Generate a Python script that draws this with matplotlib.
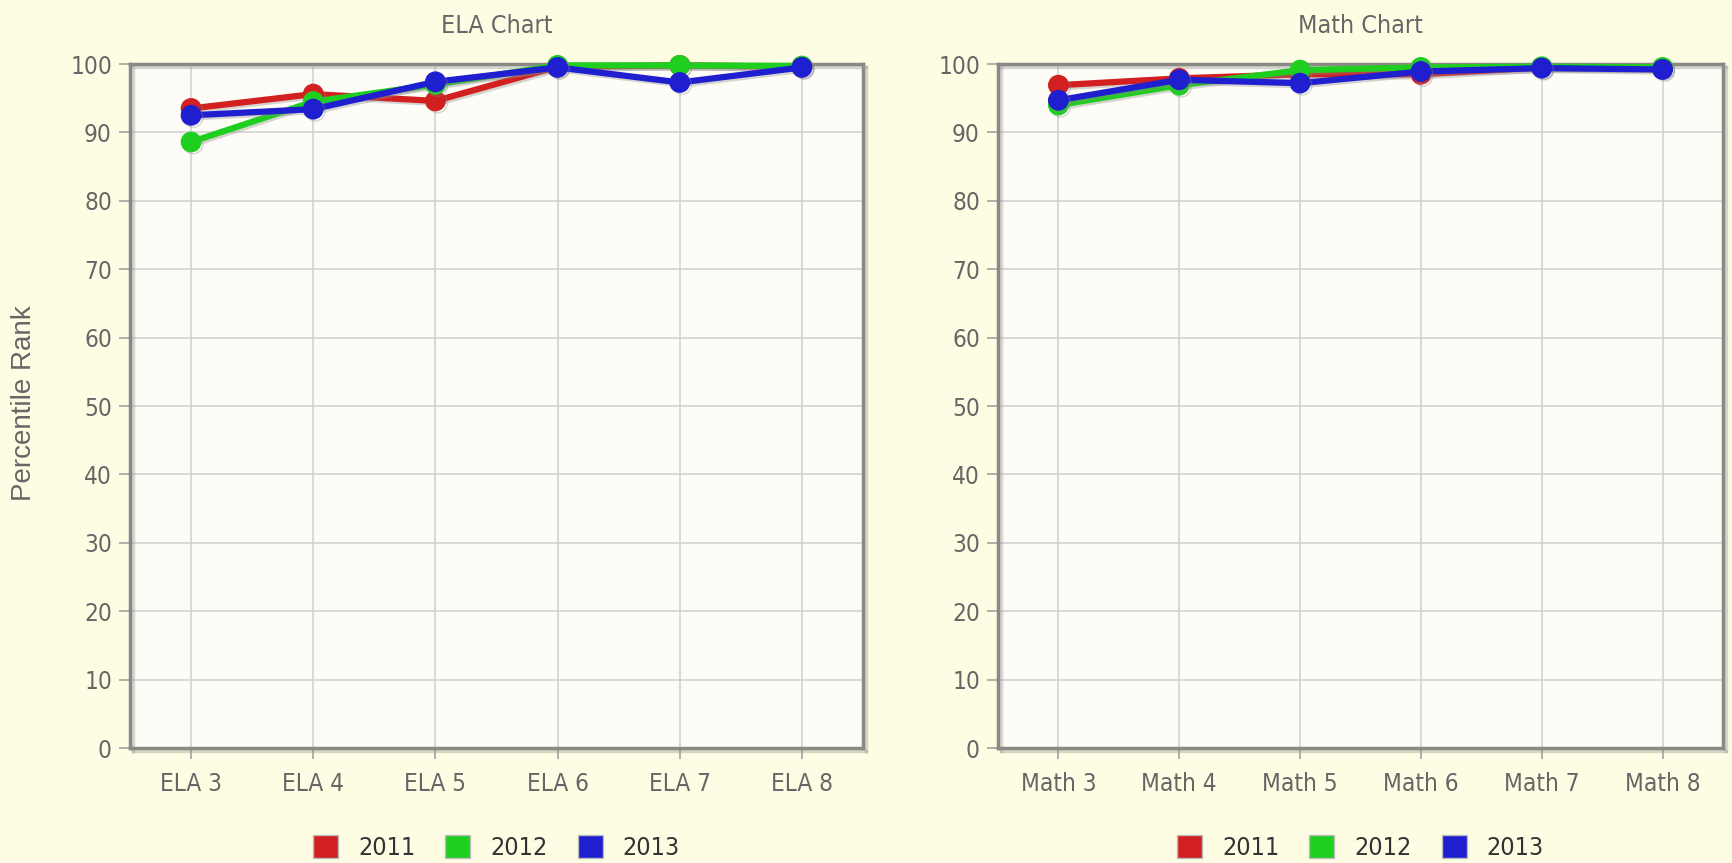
import matplotlib
matplotlib.use("Agg")
import matplotlib.pyplot as plt
import matplotlib.patheffects as pe
from matplotlib.patches import Patch
from matplotlib import font_manager

cond = [f for f in font_manager.fontManager.ttflist
        if f.name == "DejaVu Sans" and f.stretch == "condensed" and f.weight in (400, "normal")]
use_cond = len(cond) > 0
plt.rcParams["font.family"] = ["DejaVu Sans"] if use_cond else ["Liberation Sans", "DejaVu Sans"]
if use_cond:
    plt.rcParams["font.stretch"] = "condensed"

years = ["2011", "2012", "2013"]
ela_labels = ["ELA 3", "ELA 4", "ELA 5", "ELA 6", "ELA 7", "ELA 8"]
ela_2011 = [93.5, 95.6, 94.6, 99.6, 99.8, 99.6]
ela_2012 = [88.6, 94.5, 97.0, 99.8, 99.8, 99.7]
ela_2013 = [92.5, 93.4, 97.4, 99.5, 97.3, 99.5]

math_labels = ["Math 3", "Math 4", "Math 5", "Math 6", "Math 7", "Math 8"]
math_2011 = [96.9, 97.9, 98.5, 98.5, 99.5, 99.4]
math_2012 = [94.0, 96.9, 99.1, 99.5, 99.6, 99.5]
math_2013 = [94.7, 97.7, 97.2, 98.9, 99.4, 99.2]

colors = ["#d21f1f", "#1fcf1f", "#1f1fcf"]
bg = "#fefde4"
plot_bg = "#fdfcf7"
txt = "#666666"

fig = plt.figure(figsize=(17.33, 8.63), dpi=100, facecolor=bg)
W, H = 1733, 863

def make_ax(left, right, top, bottom):
    return fig.add_axes([left / W, 1 - bottom / H, (right - left) / W, (bottom - top) / H])

ax1 = make_ax(130, 863, 64, 748)
ax2 = make_ax(998, 1723, 64, 748)

def style(ax, labels, series, title):
    ax.set_facecolor(plot_bg)
    x = list(range(len(labels)))
    shadow = [pe.SimpleLineShadow(offset=(1.5, -1.5), shadow_color="#888888", alpha=0.35), pe.Normal()]
    for vals, c in zip(series, colors):
        ax.plot(x, vals, color=c, lw=4.5, marker="o", ms=14, mec=c, mfc=c,
                solid_joinstyle="round", clip_on=False, zorder=3, path_effects=shadow)
    ax.set_xlim(-0.5, len(labels) - 0.5)
    ax.set_ylim(0, 100)
    ax.set_yticks(range(0, 101, 10))
    ax.set_xticks(x)
    ax.set_xticklabels(labels)
    ax.grid(True, color="#cfcfcf", lw=1.1)
    ax.set_axisbelow(True)
    for s in ax.spines.values():
        s.set_color("#8a8a85")
        s.set_linewidth(2.5)
        s.set_path_effects([pe.SimpleLineShadow(offset=(2, -2), shadow_color="#999999", alpha=0.4), pe.Normal()])
    ax.tick_params(axis="both", colors="#9a9a9a", labelcolor=txt, labelsize=17.5, length=8, width=1.1)
    ax.tick_params(axis="x", pad=9)
    ax.tick_params(axis="y", pad=5)
    ax.set_title(title, fontsize=18, color=txt, pad=22)
    handles = [Patch(facecolor=c, edgecolor="#bbbbbb", label=y) for c, y in zip(colors, years)]
    ax.legend(handles=handles, loc="upper center", bbox_to_anchor=(0.5, -0.095), ncol=3,
              frameon=False, fontsize=18, handlelength=1.0, handleheight=1.0,
              handletextpad=0.8, columnspacing=1.2, labelcolor="#333333")

style(ax1, ela_labels, [ela_2011, ela_2012, ela_2013], "ELA Chart")
style(ax2, math_labels, [math_2011, math_2012, math_2013], "Math Chart")

fig.text(24 / W, 1 - 403 / H, "Percentile Rank", rotation=90, ha="center", va="center",
         fontsize=20, color=txt, family=["Liberation Sans", "DejaVu Sans"], fontstretch="normal")

fig.savefig("out.png", dpi=100, facecolor=bg)
